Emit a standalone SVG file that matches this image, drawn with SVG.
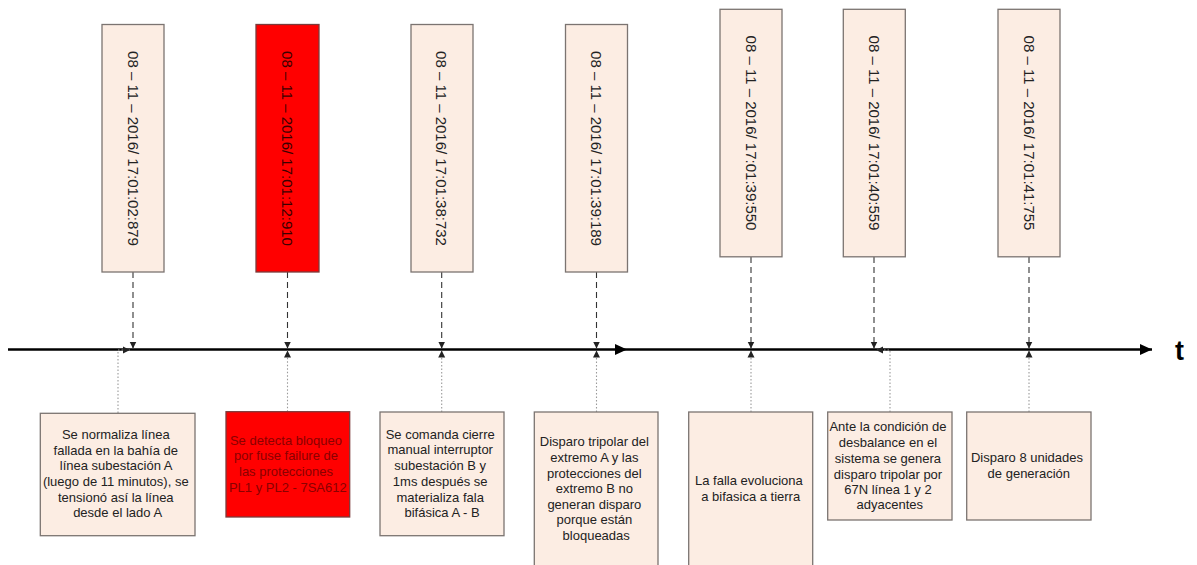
<svg xmlns="http://www.w3.org/2000/svg" width="1197" height="565" viewBox="0 0 1197 565">
  <style>
    .box { fill: #fcede3; stroke: #7b7471; stroke-width: 1.3; }
    .alert { fill: #ff0000; stroke: #7b3b3b; stroke-width: 1.3; }
    .stamp { font-family: "Liberation Sans", Arial, sans-serif; font-size: 15px; fill: #222; text-anchor: middle; dominant-baseline: central; }
    .stamp.alert-text { fill: #3a0000; }
    .note { font-family: "Liberation Sans", Arial, sans-serif; font-size: 13px; fill: #222; text-anchor: middle; }
    .note.alert-text { fill: #8a0000; }
    .axis { stroke: #000; stroke-width: 2.5; fill: none; }
    .drop { stroke: #333; stroke-width: 1.1; stroke-dasharray: 6 4; fill: none; }
    .rise { stroke: #9a9a9a; stroke-width: 1.1; stroke-dasharray: 1.5 2; fill: none; }
    .axis-label { font-family: "Liberation Sans", Arial, sans-serif; font-size: 27px; font-weight: bold; fill: #000; }
  </style>
  <defs>
    <marker id="axisHead" markerUnits="userSpaceOnUse" markerWidth="14" markerHeight="14" refX="12" refY="7" orient="auto">
      <path d="M0,1.5 L12,7 L0,12.5 Z" fill="#000"/>
    </marker>
    <marker id="tick" markerUnits="userSpaceOnUse" markerWidth="8" markerHeight="8" refX="7" refY="4" orient="auto">
      <path d="M0,0.5 L7,4 L0,7.5 Z" fill="#222"/>
    </marker>
  </defs>

  <!-- time axis -->
  <g id="axis">
    <line class="axis" x1="8" y1="349.5" x2="627" y2="349.5" marker-end="url(#axisHead)"/>
    <line class="axis" x1="627" y1="349.5" x2="1152" y2="349.5" marker-end="url(#axisHead)"/>
    <text class="axis-label" x="1175" y="360">t</text>
  </g>

  <!-- connectors: timestamps down to the axis, descriptions up to the axis -->
  <g id="connectors">
    <line class="drop" x1="133" y1="272" x2="133" y2="348.5" marker-end="url(#tick)"/>
    <line class="drop" x1="287.5" y1="272" x2="287.5" y2="348.5" marker-end="url(#tick)"/>
    <line class="drop" x1="441.7" y1="272" x2="441.7" y2="348.5" marker-end="url(#tick)"/>
    <line class="drop" x1="596.5" y1="272" x2="596.5" y2="348.5" marker-end="url(#tick)"/>
    <line class="drop" x1="751" y1="257" x2="751" y2="348.5" marker-end="url(#tick)"/>
    <line class="drop" x1="874" y1="257" x2="874" y2="348.5" marker-end="url(#tick)"/>
    <line class="drop" x1="1029" y1="257" x2="1029" y2="348.5" marker-end="url(#tick)"/>

    <polyline class="rise" points="118,413 118,350 130,350" marker-end="url(#tick)"/>
    <line class="rise" x1="287.5" y1="411.7" x2="287.5" y2="350.5" marker-end="url(#tick)"/>
    <line class="rise" x1="441.7" y1="412" x2="441.7" y2="350.5" marker-end="url(#tick)"/>
    <line class="rise" x1="596.5" y1="412" x2="596.5" y2="350.5" marker-end="url(#tick)"/>
    <line class="rise" x1="751" y1="412" x2="751" y2="350.5" marker-end="url(#tick)"/>
    <polyline class="rise" points="890,412 890,350 876,350" marker-end="url(#tick)"/>
    <line class="rise" x1="1029" y1="412" x2="1029" y2="350.5" marker-end="url(#tick)"/>
  </g>

  <!-- timestamps -->
  <g id="ts1">
    <rect class="box" x="102" y="24.5" width="62" height="247.5"/>
    <text class="stamp" transform="translate(133,148.5) rotate(90)">08 – 11 – 2016/ 17:01:02:879</text>
  </g>
  <g id="ts2">
    <rect class="alert" x="256" y="24.5" width="63" height="247.5"/>
    <text class="stamp alert-text" transform="translate(287.5,148.5) rotate(90)">08 – 11 – 2016/ 17:01:12:910</text>
  </g>
  <g id="ts3">
    <rect class="box" x="411" y="24.5" width="62" height="247.5"/>
    <text class="stamp" transform="translate(441.7,148.5) rotate(90)">08 – 11 – 2016/ 17:01:38:732</text>
  </g>
  <g id="ts4">
    <rect class="box" x="565.5" y="24.5" width="62" height="247.5"/>
    <text class="stamp" transform="translate(596.5,148.5) rotate(90)">08 – 11 – 2016/ 17:01:39:189</text>
  </g>
  <g id="ts5">
    <rect class="box" x="720" y="9.3" width="62" height="247.5"/>
    <text class="stamp" transform="translate(751,133) rotate(90)">08 – 11 – 2016/ 17:01:39:550</text>
  </g>
  <g id="ts6">
    <rect class="box" x="843.3" y="9.3" width="62" height="247.5"/>
    <text class="stamp" transform="translate(874.3,133) rotate(90)">08 – 11 – 2016/ 17:01:40:559</text>
  </g>
  <g id="ts7">
    <rect class="box" x="998" y="9.3" width="62" height="247.5"/>
    <text class="stamp" transform="translate(1029,133) rotate(90)">08 – 11 – 2016/ 17:01:41:755</text>
  </g>

  <!-- event descriptions -->
  <g id="ev1">
    <rect class="box" x="40.3" y="413.3" width="154.7" height="122.4"/>
    <text class="note" x="117.6">
      <tspan x="117.6" y="439">Se normaliza línea</tspan>
      <tspan x="117.6" y="454.7">fallada en la bahía de</tspan>
      <tspan x="117.6" y="470.3">línea subestación A</tspan>
      <tspan x="117.6" y="486">(luego de 11 minutos), se</tspan>
      <tspan x="117.6" y="501.7">tensionó así la línea</tspan>
      <tspan x="117.6" y="517.3">desde el lado A</tspan>
    </text>
  </g>
  <g id="ev2">
    <rect class="alert" x="226" y="411.7" width="123.7" height="105.3"/>
    <text class="note alert-text" x="287.8">
      <tspan x="287.8" y="444.6">Se detecta bloqueo</tspan>
      <tspan x="287.8" y="460.3">por fuse failure de</tspan>
      <tspan x="287.8" y="476">las protecciones</tspan>
      <tspan x="287.8" y="491.7">PL1 y PL2 - 7SA612</tspan>
    </text>
  </g>
  <g id="ev3">
    <rect class="box" x="380" y="412" width="124" height="123.7"/>
    <text class="note" x="442">
      <tspan x="442" y="438.6">Se comanda cierre</tspan>
      <tspan x="442" y="454.4">manual interruptor</tspan>
      <tspan x="442" y="470.2">subestación B y</tspan>
      <tspan x="442" y="486">1ms después se</tspan>
      <tspan x="442" y="501.8">materializa fala</tspan>
      <tspan x="442" y="517.3">bifásica A - B</tspan>
    </text>
  </g>
  <g id="ev4">
    <rect class="box" x="534.3" y="412" width="123.7" height="170"/>
    <text class="note" x="596.2">
      <tspan x="596.2" y="446.3">Disparo tripolar del</tspan>
      <tspan x="596.2" y="461.9">extremo A y las</tspan>
      <tspan x="596.2" y="477.5">protecciones del</tspan>
      <tspan x="596.2" y="493">extremo B no</tspan>
      <tspan x="596.2" y="508.6">generan disparo</tspan>
      <tspan x="596.2" y="524">porque están</tspan>
      <tspan x="596.2" y="539.6">bloqueadas</tspan>
    </text>
  </g>
  <g id="ev5">
    <rect class="box" x="688.7" y="412" width="124" height="170"/>
    <text class="note" x="750.7">
      <tspan x="750.7" y="485.3">La falla evoluciona</tspan>
      <tspan x="750.7" y="501.3">a bifasica a tierra</tspan>
    </text>
  </g>
  <g id="ev6">
    <rect class="box" x="827.7" y="412" width="124.3" height="108"/>
    <text class="note" x="889.8">
      <tspan x="889.8" y="431.3">Ante la condición de</tspan>
      <tspan x="889.8" y="447.2">desbalance en el</tspan>
      <tspan x="889.8" y="462.9">sistema se genera</tspan>
      <tspan x="889.8" y="478.6">disparo tripolar por</tspan>
      <tspan x="889.8" y="493.9">67N línea 1 y 2</tspan>
      <tspan x="889.8" y="509.3">adyacentes</tspan>
    </text>
  </g>
  <g id="ev7">
    <rect class="box" x="966.7" y="412" width="124.3" height="108"/>
    <text class="note" x="1028.8">
      <tspan x="1028.8" y="462.3">Disparo 8 unidades</tspan>
      <tspan x="1028.8" y="477.9">de generación</tspan>
    </text>
  </g>
</svg>
